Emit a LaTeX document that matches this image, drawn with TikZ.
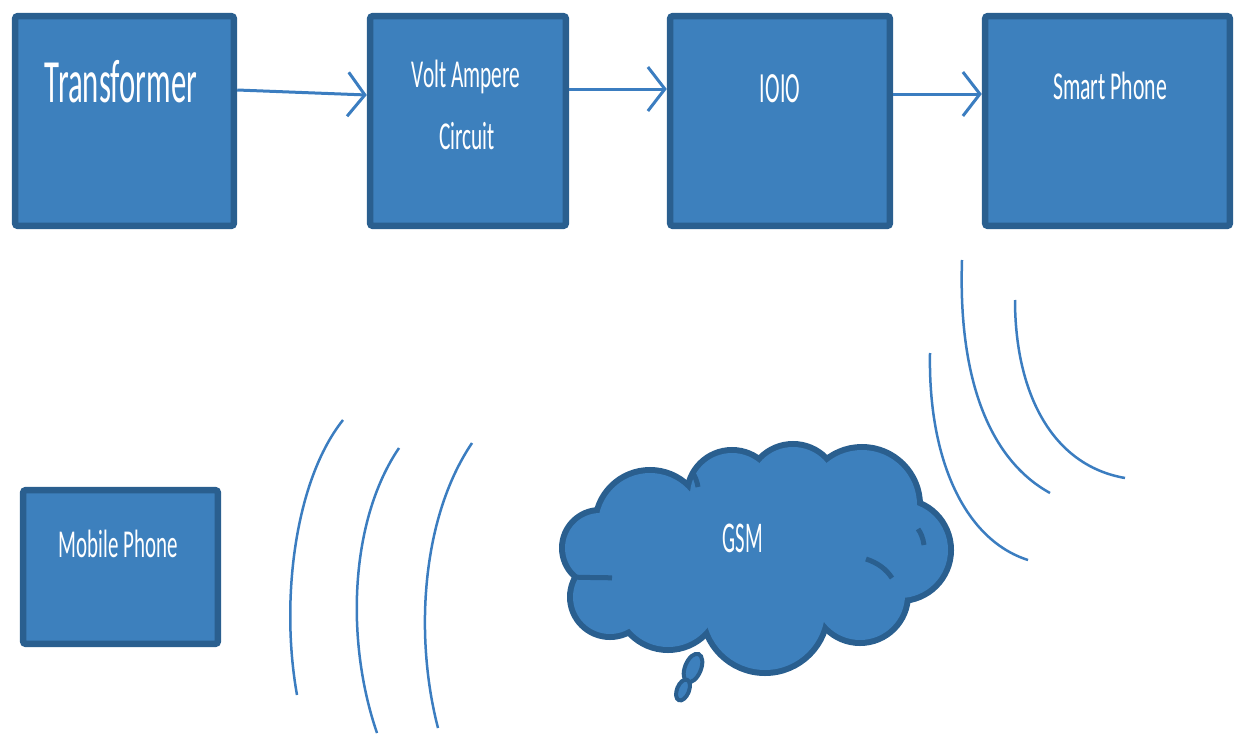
\documentclass[tikz,border=0pt]{standalone}
\usepackage{fontspec}
\setmainfont{Carlito}
\usetikzlibrary{arrows.meta,calc}
\definecolor{boxfill}{RGB}{61,128,189}
\definecolor{boxline}{RGB}{42,95,143}
\definecolor{wave}{RGB}{59,125,192}
\newcommand{\sqz}[2]{\scalebox{#1}[1]{#2}}
\begin{document}
\begin{tikzpicture}[x=0.02cm,y=-0.02cm,
  blk/.style={draw=boxline,fill=boxfill,line width=0.13cm,rounded corners=0.06cm,inner sep=0pt},
  lbl/.style={text=white,anchor=base,inner sep=0pt,font=\fontsize{22.5}{27}\selectfont},
  arr/.style={draw=wave,line width=0.06cm,-{Straight Barb[length=0.34cm,width=0.88cm]}},
  wv/.style={draw=wave,line width=0.05cm},
  puff/.style={draw=boxline,line width=0.24cm},
  puffin/.style={fill=boxfill},
  ]
\useasboundingbox (0,0) rectangle (1239,736);

% boxes
\node[blk,minimum width=4.38cm,minimum height=4.2cm] (tr) at (124.5,121) {};
\node[blk,minimum width=3.92cm,minimum height=4.2cm] (va) at (468,121) {};
\node[blk,minimum width=4.4cm,minimum height=4.2cm] (io) at (780,121) {};
\node[blk,minimum width=4.9cm,minimum height=4.2cm] (sp) at (1107.5,121) {};
\node[blk,minimum width=3.9cm,minimum height=3.08cm] (mp) at (120.5,567) {};

% labels
\node[lbl,font=\fontsize{35}{40}\selectfont] (trt) at (121,103) {\sqz{0.5}{Transformer}};
\node[lbl] (vat1) at (466,88) {\sqz{0.54}{Volt Ampere}};
\node[lbl] (vat2) at (467,150) {\sqz{0.54}{Circuit}};
\node[lbl,font=\fontsize{24.5}{28}\selectfont] (iot) at (780,103) {\sqz{0.51}{IOIO}};
\node[lbl] (spt) at (1110,100) {\sqz{0.55}{Smart Phone}};
\node[lbl] (mpt) at (118,557) {\sqz{0.53}{Mobile Phone}};

% arrows
\draw[arr] ([yshift=0.62cm]tr.east) -- ([yshift=0.52cm]va.west);
\draw[arr] ([yshift=0.64cm]va.east) -- ([yshift=0.64cm]io.west);
\draw[arr] ([yshift=0.54cm]io.east) -- ([yshift=0.54cm]sp.west);

% cloud
\foreach \cx/\cy/\r in {600/548/35, 610/597/37, 650/525/52, 732/495/42, 793/490/43, 862/505/55, 900/550/48, 860/595/45, 765/610/60, 668/597/50}
  \draw[puff] (\cx,\cy) circle[radius=\r];
\foreach \cx/\cy/\r in {600/548/35, 610/597/37, 650/525/52, 732/495/42, 793/490/43, 862/505/55, 900/550/48, 860/595/45, 765/610/60, 668/597/50}
  \fill[puffin] (\cx,\cy) circle[radius=\r];
\fill[puffin] (757,555) ellipse[x radius=150,y radius=65];
% inner cloud strokes
\draw[boxline,line width=0.1cm] (574,577) .. controls (588,578) and (600,577) .. (612,578);
\draw[boxline,line width=0.1cm] (866,559) .. controls (878,563) and (886,569) .. (892,578);
\draw[boxline,line width=0.1cm] (692,472) .. controls (695,476) and (697,481) .. (698,487);
\draw[boxline,line width=0.1cm] (918,529) .. controls (921,533) and (923,538) .. (924,545);
% tail
\draw[boxline,fill=boxfill,line width=0.08cm,rotate around={-22:(693,668)}] (693,668) ellipse[x radius=8,y radius=15];
\draw[boxline,fill=boxfill,line width=0.08cm,rotate around={-22:(683,690)}] (683,690) ellipse[x radius=6,y radius=11];
\node[lbl,font=\fontsize{25}{28}\selectfont] (gsm) at (743,552) {\sqz{0.47}{GSM}};

% waves left
\draw[wv] (343,420) .. controls (295,480) and (280,600) .. (297,695);
\draw[wv] (399,448) .. controls (350,520) and (345,640) .. (377,733);
\draw[wv] (472,443) .. controls (420,520) and (415,640) .. (438,728);
% waves right
\draw[wv] (962,260) .. controls (958,380) and (990,460) .. (1050,493);
\draw[wv] (1015,300) .. controls (1015,390) and (1050,465) .. (1125,478);
\draw[wv] (930,353) .. controls (928,460) and (965,540) .. (1028,560);
\end{tikzpicture}
\end{document}
